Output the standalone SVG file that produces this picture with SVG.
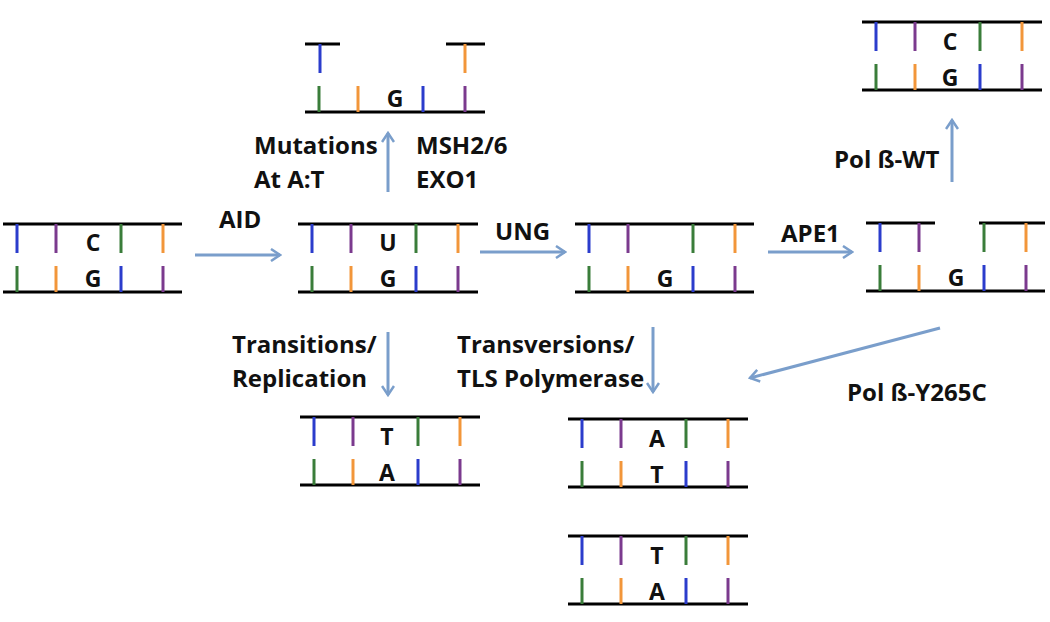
<svg xmlns="http://www.w3.org/2000/svg" width="1050" height="622" viewBox="0 0 1050 622">
<defs>
<style>
.bg{fill:#ffffff}
.ln{stroke:#000;stroke-width:3;fill:none}
.b{stroke:#2b3ccc;stroke-width:3}
.p{stroke:#7b3a8e;stroke-width:3}
.g{stroke:#3a7d3a;stroke-width:3}
.o{stroke:#f2963a;stroke-width:3}
.base{font-family:"Open Sans","Liberation Sans",sans-serif;font-weight:bold;font-size:23px;fill:#111;text-anchor:middle}
.lbl{font-family:"Open Sans","Liberation Sans",sans-serif;font-weight:bold;font-size:24px;fill:#111}
.arr{stroke:#7a9ecb;stroke-width:3;fill:none;marker-end:url(#ah)}
</style>
<marker id="ah" viewBox="0 0 14 14" refX="12" refY="7" markerWidth="14" markerHeight="14" markerUnits="userSpaceOnUse" orient="auto">
<path d="M3,1 L12,7 L3,13" fill="none" stroke="#7a9ecb" stroke-width="2.5"/>
</marker>
<g id="topbars">
<line class="b" x1="14" y1="0" x2="14" y2="29"/>
<line class="p" x1="53" y1="0" x2="53" y2="29"/>
<line class="g" x1="118" y1="0" x2="118" y2="29"/>
<line class="o" x1="160" y1="0" x2="160" y2="29"/>
</g>
<g id="botbars">
<line class="g" x1="14" y1="42" x2="14" y2="68"/>
<line class="o" x1="53" y1="42" x2="53" y2="68"/>
<line class="b" x1="118" y1="42" x2="118" y2="68"/>
<line class="p" x1="160" y1="42" x2="160" y2="68"/>
</g>
</defs>
<rect class="bg" x="0" y="0" width="1050" height="622"/>

<g id="dna-CG-start" transform="translate(3,224)">
<line class="ln" x1="0" y1="0" x2="179" y2="0"/>
<line class="ln" x1="0" y1="68" x2="179" y2="68"/>
<use href="#topbars"/><use href="#botbars"/>
<text class="base" x="90" y="27">C</text>
<text class="base" x="90" y="63">G</text>
</g>

<g id="dna-UG" transform="translate(298,224)">
<line class="ln" x1="0" y1="0" x2="180" y2="0"/>
<line class="ln" x1="0" y1="68" x2="180" y2="68"/>
<use href="#topbars"/><use href="#botbars"/>
<text class="base" x="90" y="27">U</text>
<text class="base" x="90" y="63">G</text>
</g>

<g id="dna-abasic" transform="translate(575,224)">
<line class="ln" x1="0" y1="0" x2="179" y2="0"/>
<line class="ln" x1="0" y1="68" x2="179" y2="68"/>
<use href="#topbars"/><use href="#botbars"/>
<text class="base" x="90" y="63">G</text>
</g>

<g id="dna-nicked" transform="translate(866,223)">
<line class="ln" x1="0" y1="0" x2="69" y2="0"/>
<line class="ln" x1="113" y1="0" x2="179" y2="0"/>
<line class="ln" x1="0" y1="68" x2="179" y2="68"/>
<use href="#topbars"/><use href="#botbars"/>
<text class="base" x="90" y="63">G</text>
</g>

<g id="dna-CG-repaired" transform="translate(862,22)">
<line class="ln" x1="0" y1="0" x2="180" y2="0"/>
<line class="ln" x1="0" y1="68" x2="180" y2="68"/>
<use href="#topbars"/><use href="#botbars"/>
<text class="base" x="88" y="28">C</text>
<text class="base" x="88" y="64">G</text>
</g>

<g id="dna-gap" transform="translate(305,44)">
<line class="ln" x1="0" y1="0" x2="35" y2="0"/>
<line class="ln" x1="141" y1="0" x2="180" y2="0"/>
<line class="ln" x1="0" y1="68" x2="180" y2="68"/>
<line class="b" x1="15" y1="0" x2="15" y2="29"/>
<line class="o" x1="160" y1="0" x2="160" y2="29"/>
<use href="#botbars"/>
<text class="base" x="90" y="63">G</text>
</g>

<g id="dna-TA-transition" transform="translate(300,417)">
<line class="ln" x1="0" y1="0" x2="180" y2="0"/>
<line class="ln" x1="0" y1="68" x2="180" y2="68"/>
<use href="#topbars"/><use href="#botbars"/>
<text class="base" x="87" y="28">T</text>
<text class="base" x="87" y="64">A</text>
</g>

<g id="dna-AT-transversion" transform="translate(568,419)">
<line class="ln" x1="0" y1="0" x2="180" y2="0"/>
<line class="ln" x1="0" y1="68" x2="180" y2="68"/>
<use href="#topbars"/><use href="#botbars"/>
<text class="base" x="89" y="28">A</text>
<text class="base" x="89" y="64">T</text>
</g>

<g id="dna-TA-transversion" transform="translate(568,536)">
<line class="ln" x1="0" y1="0" x2="180" y2="0"/>
<line class="ln" x1="0" y1="68" x2="180" y2="68"/>
<use href="#topbars"/><use href="#botbars"/>
<text class="base" x="89" y="28">T</text>
<text class="base" x="89" y="64">A</text>
</g>

<g id="connectors">
<line class="arr" x1="195" y1="255" x2="280" y2="255"/>
<line class="arr" x1="480" y1="252" x2="565" y2="252"/>
<line class="arr" x1="768" y1="252" x2="852" y2="252"/>
<line class="arr" x1="388" y1="192" x2="388" y2="133"/>
<line class="arr" x1="952" y1="182" x2="952" y2="120"/>
<line class="arr" x1="388" y1="332" x2="388" y2="395"/>
<line class="arr" x1="653" y1="327" x2="653" y2="392"/>
<line class="arr" x1="940" y1="328" x2="750" y2="378"/>
</g>

<g id="labels">
<text class="lbl" x="219" y="228">AID</text>
<text class="lbl" x="495" y="240">UNG</text>
<text class="lbl" x="781" y="242">APE1</text>
<text class="lbl" x="254" y="154">Mutations</text>
<text class="lbl" x="254" y="188">At A:T</text>
<text class="lbl" x="416" y="154">MSH2/6</text>
<text class="lbl" x="416" y="188">EXO1</text>
<text class="lbl" x="834" y="168">Pol ß-WT</text>
<text class="lbl" x="232" y="353">Transitions/</text>
<text class="lbl" x="232" y="387">Replication</text>
<text class="lbl" x="457" y="353">Transversions/</text>
<text class="lbl" x="457" y="387">TLS Polymerase</text>
<text class="lbl" x="847" y="401">Pol ß-Y265C</text>
</g>
</svg>
